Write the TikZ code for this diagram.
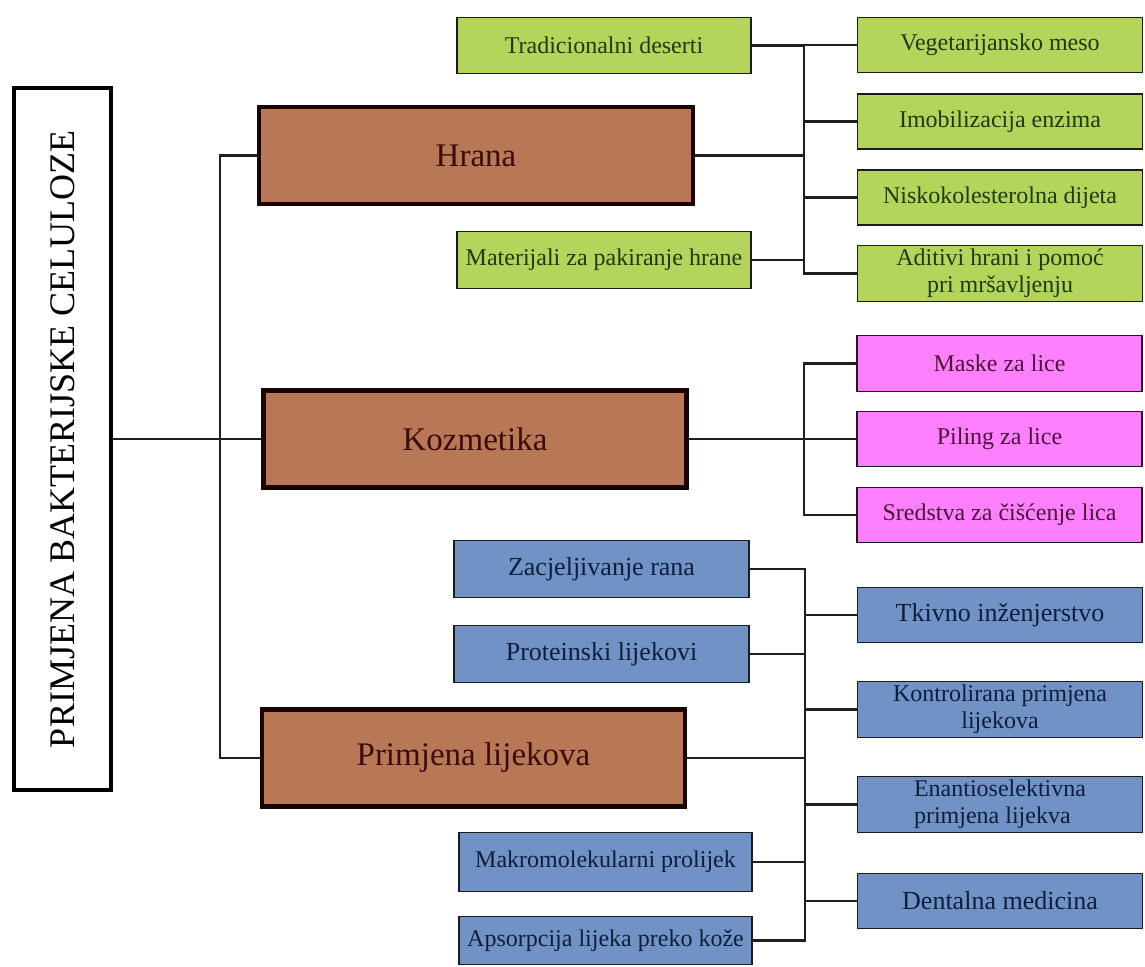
\documentclass[tikz,border=0pt]{standalone}
\usepackage{fontspec}
\setmainfont{Liberation Serif}
\usepackage{tikz}
\usetikzlibrary{positioning, calc}
\usepackage{xcolor}
\definecolor{MainFill}{HTML}{B87856}
\definecolor{MainText}{HTML}{3B0D0A}
\definecolor{MainEdge}{HTML}{1A0402}
\definecolor{FoodFill}{HTML}{B4D55B}
\definecolor{FoodText}{HTML}{1F3A0A}
\definecolor{CosmFill}{HTML}{FF80FF}
\definecolor{CosmText}{HTML}{4A1538}
\definecolor{MedFill}{HTML}{7092C4}
\definecolor{MedText}{HTML}{0F1E3C}
\definecolor{LeafEdge}{HTML}{1C1C1C}
\definecolor{Wire}{HTML}{1E1E1E}

\begin{document}
\begin{tikzpicture}[x=1pt, y=-1pt,
            rootbox/.style={rectangle, draw=black, line width=4.5pt, fill=white, minimum width=97pt, minimum height=702pt, inner sep=0pt, font=\fontsize{36}{40}\selectfont},
            mainbox/.style={rectangle, draw=MainEdge, line width=4.5pt, fill=MainFill, text=MainText, minimum height=97pt, minimum width=423pt, inner sep=0pt, font=\fontsize{33}{38}\selectfont},
            leaf/.style={rectangle, draw=LeafEdge, line width=1.8pt, minimum height=55pt, minimum width=285pt, inner sep=0pt, align=center, font=\fontsize{24}{27}\selectfont},
            food/.style={leaf, fill=FoodFill, text=FoodText},
            cosm/.style={leaf, fill=CosmFill, text=CosmText},
            med/.style={leaf, fill=MedFill, text=MedText},
            link/.style={draw=Wire, line width=2.2pt}
        ]
            \useasboundingbox (0,0) rectangle (1145,966);

            % Root
            \node[rootbox] (root) at (62.5,439) {\rotatebox{90}{PRIMJENA BAKTERIJSKE CELULOZE}};

            % Main fields
            \node[mainbox, minimum width=434pt] (hrana) at (476,155.5) {Hrana};
            \node[mainbox] (kozm) at (475,439) {Kozmetika};
            \node[mainbox] (prim) at (473.5,758) {Primjena lijekova};

            % Food
            \node[food, minimum width=294pt, minimum height=56pt] (trad) at (604,45.5) {Tradicionalni deserti};
            \node[food, minimum width=294pt, minimum height=57pt] (mater) at (604,260) {Materijali za pakiranje hrane};
            \node[food] (veget) at (1000,45) {Vegetarijansko meso};
            \node[food] (imob) at (1000,121.5) {Imobilizacija enzima};
            \node[food] (nisko) at (1000,197.5) {Niskokolesterolna dijeta};
            \node[food, minimum height=56pt] (aditivi) at (1000,273.5) {Aditivi hrani i pomoć\\pri mršavljenju};

            % Cosmetics
            \node[cosm, minimum height=56pt] (maske) at (999.5,363.5) {Maske za lice};
            \node[cosm] (piling) at (999.5,439) {Piling za lice};
            \node[cosm] (sredstva) at (999.5,515) {Sredstva za čišćenje lica};

            % Drugs
            \node[med, minimum width=295pt, minimum height=57pt, font=\fontsize{26}{28}\selectfont] (zacj) at (601.5,569) {Zacjeljivanje rana};
            \node[med, minimum width=295pt, minimum height=57pt, font=\fontsize{26}{28}\selectfont] (protein) at (601.5,654) {Proteinski lijekovi};
            \node[med, minimum width=293pt, minimum height=59pt] (makro) at (605.5,862) {Makromolekularni prolijek};
            \node[med, minimum width=293pt, minimum height=48pt] (apsorp) at (605.5,940.5) {Apsorpcija lijeka preko kože};
            \node[med, font=\fontsize{26}{28}\selectfont] (tkivno) at (1000,615) {Tkivno inženjerstvo};
            \node[med, minimum height=56pt] (kontrol) at (1000,709.5) {Kontrolirana primjena\\lijekova};
            \node[med, minimum height=56pt, align=left] (enantio) at (1000,804.5) {Enantioselektivna\\primjena lijekva};
            \node[med, font=\fontsize{26}{28}\selectfont] (dental) at (1000,901) {Dentalna medicina};

            % Buses
            \coordinate (trunk) at (220,439);
            \coordinate (fbus) at (804,160);
            \coordinate (kbus) at (804,439);
            \coordinate (mbus) at (805,758);

            % Connections
            \draw[link] (root.east) -- (kozm.west);
            \draw[link] (hrana.west) -| (trunk) |- (prim.west);

            \draw[link] (trad.east) -| (fbus) |- (mater.east);
            \draw[link] (veget.west) -| (fbus) |- (aditivi.west);
            \draw[link] (hrana.east) -- (hrana.east -| fbus);
            \draw[link] (imob.west) -- (imob.west -| fbus);
            \draw[link] (nisko.west) -- (nisko.west -| fbus);

            \draw[link] (maske.west) -| (kbus) |- (sredstva.west);
            \draw[link] (kozm.east) -- (piling.west);

            \draw[link] (zacj.east) -| (mbus) |- (apsorp.east);
            \draw[link] (tkivno.west) -| (mbus) |- (dental.west);
            \draw[link] (protein.east) -- (protein.east -| mbus);
            \draw[link] (makro.east) -- (makro.east -| mbus);
            \draw[link] (prim.east) -- (prim.east -| mbus);
            \draw[link] (kontrol.west) -- (kontrol.west -| mbus);
            \draw[link] (enantio.west) -- (enantio.west -| mbus);
        \end{tikzpicture}
\end{document}
